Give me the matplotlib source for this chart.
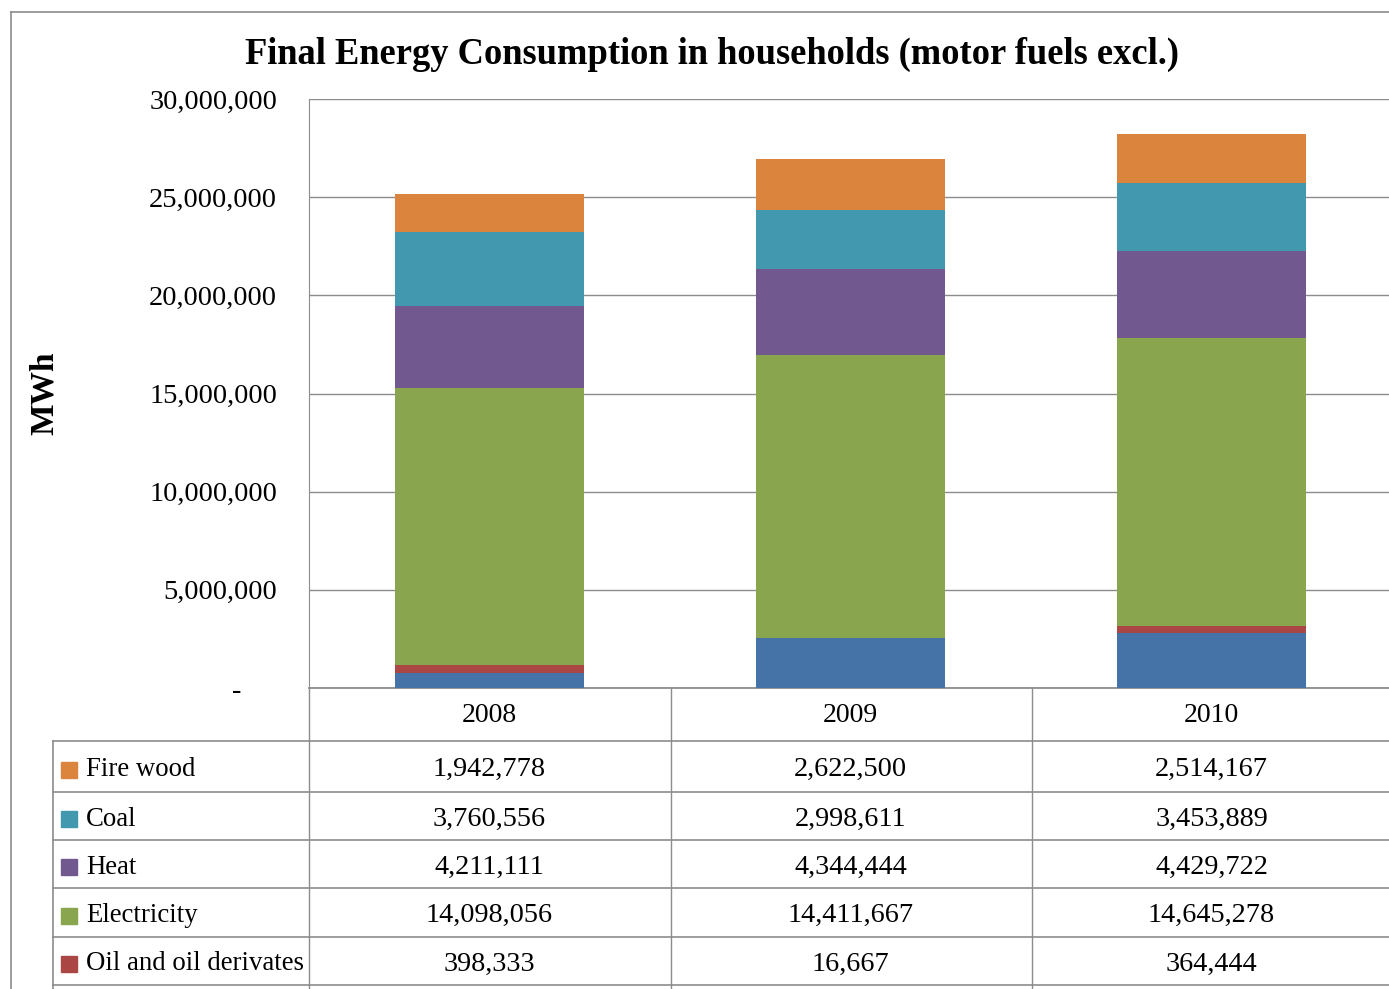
import matplotlib
matplotlib.use("Agg")
import matplotlib.pyplot as plt
from matplotlib.lines import Line2D
from matplotlib.ticker import FuncFormatter, MultipleLocator

# ---- data ----
years = ["2008", "2009", "2010"]
# stacking order bottom -> top
series_names = ["Natural gas", "Oil and oil derivates", "Electricity", "Heat", "Coal", "Fire wood"]
natural_gas = [760000, 2550000, 2810000]   # bottom row of the table is cut off
oil = [398333, 16667, 364444]
electricity = [14098056, 14411667, 14645278]
heat = [4211111, 4344444, 4429722]
coal = [3760556, 2998611, 3453889]
fire_wood = [1942778, 2622500, 2514167]
series_values = [natural_gas, oil, electricity, heat, coal, fire_wood]
colors = ["#4572A7", "#AA4643", "#89A54E", "#71588F", "#4198AF", "#DB843D"]

plt.rcParams["font.family"] = ["Liberation Serif", "DejaVu Serif"]

W, H = 1389, 989
fig = plt.figure(figsize=(W / 100, H / 100), dpi=100)

def fx(x):
    return x / W

def fy(y):
    return 1 - y / H

GRID = "#8c8c8c"

# outer chart border (continues past the right and bottom edges)
fig.add_artist(Line2D([fx(11), fx(11)], [fy(12), fy(995)], color=GRID, lw=1.2))
fig.add_artist(Line2D([fx(11), fx(1395)], [fy(12), fy(12)], color=GRID, lw=1.2))

# plot area
ax_l, ax_r, ax_t, ax_b = 309, 1392, 99, 688
ax = fig.add_axes([fx(ax_l), fy(ax_b), fx(ax_r - ax_l), (ax_b - ax_t) / H])
ax.set_xlim(-0.5, 2.5)
ax.set_ylim(0, 30000000)

x = range(len(years))
bottom = [0, 0, 0]
for name, vals, c in zip(series_names, series_values, colors):
    ax.bar(x, vals, width=0.525, bottom=bottom, color=c, label=name, zorder=3)
    bottom = [b + v for b, v in zip(bottom, vals)]

ax.yaxis.set_major_locator(MultipleLocator(5000000))
ax.yaxis.set_major_formatter(FuncFormatter(lambda v, p: "-     " if v == 0 else f"{v:,.0f}"))
ax.tick_params(axis="y", length=0, pad=23, labelsize=20.5)
ax.set_xticks([])
ax.grid(axis="y", color=GRID, lw=1, zorder=0)
for s in ["top", "right"]:
    ax.spines[s].set_visible(False)
ax.spines["left"].set_color(GRID)
ax.spines["bottom"].set_color(GRID)
ax.spines["bottom"].set_linewidth(1.3)

ax.set_ylabel("MWh", fontsize=24, fontweight="bold", labelpad=0)
ax.yaxis.set_label_coords((60 - ax_l) / (ax_r - ax_l), (ax_b - 393) / (ax_b - ax_t))

fig.text(fx(712), fy(54), "Final Energy Consumption in households (motor fuels excl.)",
         ha="center", va="center", fontsize=26.3, fontweight="bold")

# ---- data table under the plot ----
row_lines = [741, 792, 840, 888, 937, 985]
col_lines = [309, 671, 1032]
for y in row_lines:
    fig.add_artist(Line2D([fx(53), fx(1395)], [fy(y), fy(y)], color=GRID, lw=1.2))
for xv in col_lines:
    fig.add_artist(Line2D([fx(xv), fx(xv)], [fy(688), fy(1000)], color=GRID, lw=1))
fig.add_artist(Line2D([fx(53), fx(53)], [fy(741), fy(1000)], color=GRID, lw=1.2))

# header (years), placed under each bar using the axis x scale
tr = ax.get_xaxis_transform()
for i, yr in enumerate(years):
    ax.text(i, (ax_b - 715) / (ax_b - ax_t), yr, transform=tr, ha="center", va="center",
            fontsize=20, clip_on=False)

# rows: top of the table is the top of the stack (last row lies below the picture edge)
order = list(reversed(range(len(series_names))))
for r in range(len(row_lines) - 1):
    idx = order[r]
    y_mid = (row_lines[r] + row_lines[r + 1]) / 2 + 3
    yy = (ax_b - y_mid) / (ax_b - ax_t)
    fig.patches.append(plt.Rectangle((fx(61), fy(y_mid + 8)), fx(16), 16 / H,
                                     transform=fig.transFigure, color=colors[idx], figure=fig))
    fig.text(fx(86), fy(y_mid), series_names[idx], ha="left", va="center", fontsize=19.3)
    for i, v in enumerate(series_values[idx]):
        ax.text(i, yy, f"{v:,}", transform=tr, ha="center", va="center", fontsize=20.3,
                clip_on=False)

fig.savefig("out.png", dpi=100)
